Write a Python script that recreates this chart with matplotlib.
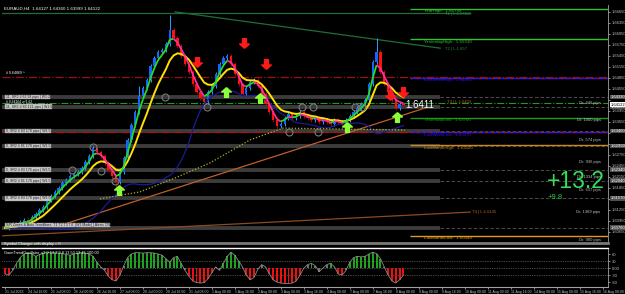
import numpy as np
import pandas as pd
import matplotlib
matplotlib.use('Agg')
import matplotlib.pyplot as plt
from matplotlib.collections import LineCollection
from matplotlib.path import Path
import matplotlib.transforms as mtransforms

plt.rcParams['font.family'] = ['Liberation Sans', 'DejaVu Sans']

# ---- data (EURAUD, H4) ----
closes = [1.6076, 1.6081, 1.6086, 1.6081, 1.6092, 1.6097, 1.6092, 1.6106, 1.6114, 1.6125,
          1.6133, 1.6152, 1.6163, 1.6174, 1.6185, 1.6198, 1.6207, 1.6217, 1.6223, 1.6228,
          1.6239, 1.6256, 1.6272, 1.6294, 1.6283, 1.6272, 1.6253, 1.6234, 1.6217, 1.6201,
          1.6228, 1.6266, 1.6316, 1.6356, 1.6392, 1.6435, 1.6457, 1.6479, 1.6517, 1.6539,
          1.6556, 1.6561, 1.6577, 1.6616, 1.6594, 1.6572, 1.6545, 1.6523, 1.6501, 1.6468,
          1.6447, 1.6430, 1.6419, 1.6447, 1.6463, 1.6496, 1.6523, 1.6539, 1.6545, 1.6523,
          1.6496, 1.6468, 1.6441, 1.6457, 1.6474, 1.6479, 1.6463, 1.6441, 1.6414, 1.6392,
          1.6370, 1.6354, 1.6359, 1.6376, 1.6386, 1.6376, 1.6381, 1.6392, 1.6381, 1.6376,
          1.6370, 1.6376, 1.6365, 1.6370, 1.6365, 1.6359, 1.6370, 1.6365, 1.6359, 1.6370,
          1.6381, 1.6392, 1.6403, 1.6414, 1.6425, 1.6468, 1.6528, 1.6556, 1.6501, 1.6468,
          1.6447, 1.6425, 1.6403, 1.6414, 1.6411]
spike_highs = {43: 1.6656, 97: 1.6594, 35: 1.6462, 62: 1.6470}
spike_lows = {29: 1.6186, 52: 1.6405, 71: 1.6340}

osc = [-25, -30, -10, 20, 45, 60, 64, 62, 50, 58, 64, 66, 66, 66, 64, 62, 58, 55, 60, 64,
       66, 64, 60, 50, 25, 5, -10, -35, -50, -55, -30, 10, 45, 60, 66, 66, 64, 66, 66, 64,
       60, 55, 40, 25, 45, 50, 20, -10, -35, -55, -62, -64, -62, -45, -20, 5, -10, 20, 50, 68,
       55, 30, 5, -30, -50, -40, -5, 15, 5, -25, -50, -60, -64, -66, -66, -64, -55, -30, 0, 15,
       20, 10, -15, 0, 15, 20, 5, -25, -30, -10, 25, 45, 50, 48, 50, 60, 68, 62, 40, 5,
       -30, -55, -64, -50, -30]

slow_ma_bars = [24.8, 35.2, 44.4, 53.5, 64.0, 72.6, 84.9, 104.4]
slow_ma_vals = [1.6155, 1.6174, 1.6212, 1.6253, 1.6316, 1.6348, 1.6346, 1.6343]

zone_levels = [1.6433, 1.6406, 1.6340, 1.6299, 1.6234, 1.6204, 1.6157, 1.6076]
zone_texts = ["11, SR2 # 62 98 pips | W1:2", "11, SR2 # 83 121 pips | W1:5",
              "0, SR2 # 83 178 pips | W1:5", "0, SR2 # 81 178 pips | W1:5",
              "0, SR2 # 83 176 pips | W1:5", "0, SR2 # 81 178 pips | W1:5",
              "0, SR2 # 83 178 pips | W1:5", ""]

day_levels = {"YearHigh": 1.6673, "YesterdayHigh": 1.6591, "LastWeekHigh": 1.6485,
              "YesterdayLow": 1.6376, "LastWeekLow": 1.6337, "LastMonthHigh": 1.6302,
              "LastMonthLow": 1.6054}

dr_prices = [1.6416, 1.6370, 1.6316, 1.6256, 1.6215, 1.6179, 1.6119, 1.6043]
dr_texts = ["Dr. 446 pips", "Dr. 1000 pips", "Dr. 574 pips", "Dr. 936 pips",
            "Dr. 1334 pips", "Dr. 637 pips", "Dr. 1369 pips", "Dr. 900 pips"]

sell_bars = [50.1, 62.4, 68.1, 100.5, 103.9]
sell_vals = [1.6528, 1.6580, 1.6523, 1.6438, 1.6446]
buy_bars = [29.8, 57.7, 66.6, 89.3, 102.3]
buy_vals = [1.6179, 1.6446, 1.6430, 1.6351, 1.6378]

ring_bars = [23, 17.5, 25.1, 28.7, 41.8, 52.7, 74.2, 77.5, 80.4, 81.7, 91.4, 93.2]
ring_vals = [1.6296, 1.6234, 1.6231, 1.6204, 1.6433, 1.6406, 1.6337, 1.6406, 1.6406,
             1.6337, 1.6406, 1.6406]

date_labels = ["21 Jul 2023", "24 Jul 16:00", "25 Jul 08:00", "26 Jul 00:00", "26 Jul 16:00",
               "27 Jul 08:00", "28 Jul 00:00", "28 Jul 16:00", "31 Jul 08:00", "1 Aug 00:00",
               "1 Aug 16:00", "2 Aug 08:00", "3 Aug 00:00", "3 Aug 16:00", "4 Aug 08:00",
               "7 Aug 00:00", "7 Aug 16:00", "8 Aug 08:00", "9 Aug 00:00", "9 Aug 16:00",
               "10 Aug 08:00", "11 Aug 00:00", "11 Aug 16:00", "14 Aug 08:00", "15 Aug 00:00",
               "15 Aug 16:00", "16 Aug 08:00"]

# ---- figure ----
fig = plt.figure(figsize=(6.25, 2.94), dpi=100, facecolor='black')
ax = fig.add_axes([2/625, 1-243/294, 606/625, 238/294], facecolor='black')
ax2 = fig.add_axes([2/625, 1-287/294, 606/625, 39/294], facecolor='black', sharex=ax)

x0, x1 = -0.78, 157.4
ax.set_xlim(x0, x1)
ax.set_ylim(1.60347, 1.66837)

idx = np.arange(len(closes))
opens = [closes[0] + 0.0005] + closes[:-1]
highs, lows = [], []
for i in idx:
    o, c = opens[i], closes[i]
    highs.append(spike_highs.get(i, max(o, c) + 0.0006))
    lows.append(spike_lows.get(i, min(o, c) - 0.0006))

# zones (grey bands) + dashed continuation
for lv, t in zip(zone_levels, zone_texts):
    ax.hlines(lv, x0, 113.6, color='#3c3c3c', lw=2.8, zorder=1)
    ax.hlines(lv, 113.6, x1, color='#6a6a6a', lw=0.5, linestyles=(0, (5, 3)), zorder=1)
    if t:
        ax.text(0.2, lv, t, fontsize=2.5, color='#202020', va='center', ha='left', zorder=6,
                bbox=dict(facecolor='#c8c8c8', edgecolor='#909090', pad=0.3, lw=0.3))
ax.text(0.2, 1.6084, "S/R Zones & Auto Trendlines  T1 T2 T3 T4  (W1 Mode) | Alerts ON",
        fontsize=2.5, color='#202020', va='center', ha='left', zorder=6,
        bbox=dict(facecolor='#c8c8c8', edgecolor='#909090', pad=0.3, lw=0.3))

# full width dash-dot levels
ax.hlines(1.6487, x0, x1, color='#a01010', lw=0.9, linestyles='dashdot', zorder=2)
ax.hlines(1.6416, x0, x1, color='#1f9a1f', lw=0.8, linestyles='dashdot', zorder=2)
ax.hlines(1.6337, x0, x1, color='#b01010', lw=0.9, linestyles='dashdot', zorder=2)
ax.text(0.2, 1.6494, "# 0.64869 ^", fontsize=2.6, color='white', va='bottom')
ax.text(0.2, 1.64195, "# 0.64164 w/1.62", fontsize=2.4, color='white', va='center')

# day / week / month levels on the right
lv_colors = {"YearHigh": '#30c030', "YesterdayHigh": '#30c030', "LastWeekHigh": '#1a1aff',
             "YesterdayLow": '#1a9a1a', "LastWeekLow": '#1a1aff', "LastMonthHigh": '#c88a20',
             "LastMonthLow": '#e09a20'}
for name, lv in day_levels.items():
    ax.hlines(lv, 105.7, x1, color=lv_colors[name], lw=1.0, zorder=2)
    ax.text(109.5, lv - 0.0007, f"{name}:  {lv:.5f}", fontsize=3.2, color=lv_colors[name],
            va='center', ha='left', zorder=6)
ax.hlines([1.6485, 1.6337], 105.7, x1, color='#b01010', lw=0.9, linestyles=(0, (2, 3)), zorder=3)

for p, t in zip(dr_prices, dr_texts):
    ax.text(155.5, p, t, fontsize=3.0, color='#c0c0c0', ha='right', va='center')

# trendlines
ax.plot([-1.0, 121.4], [1.6662, 1.6662], color='#1f6e35', lw=0.9, zorder=2)
ax.plot([44.4, 113.6], [1.6665, 1.6566], color='#1f6e35', lw=0.9, zorder=2)
ax.plot([15.7, 109.7], [1.6087, 1.6403], color='#c0602a', lw=0.9, zorder=2)
ax.plot([-1.3, 121.4], [1.6054, 1.6119], color='#8b4a22', lw=0.9, zorder=2)
ax.text(114.9, 1.6659, "T1 | L:1.66616", fontsize=3.0, color='#2a8a45', va='center')
ax.text(114.9, 1.6564, "T2 | L:1.657", fontsize=3.0, color='#2a8a45', va='center')
ax.text(115.5, 1.6418, "T3 | L:1.6403", fontsize=3.0, color='#c0602a', va='center')
ax.text(122.0, 1.6119, "T4 | L:1.6135", fontsize=3.0, color='#c0602a', va='center')

# candles
up = np.array(closes) >= np.array(opens)
wick_c = np.where(up, '#2aa0ff', '#b00000')
body_c = np.where(up, '#1464ff', '#ff1010')
ax.vlines(idx, lows, highs, colors=wick_c, lw=0.7, zorder=3)
bottoms = np.minimum(opens, closes)
heights = np.maximum(np.abs(np.array(closes) - np.array(opens)), 0.0002)
ax.bar(idx, heights, bottom=bottoms, width=0.6, color=body_c, zorder=3)

# indicators from the closes
s = pd.Series(closes)
fast = s.ewm(span=3, adjust=False).mean()
mid = s.ewm(span=8, adjust=False).mean()
lower = s.rolling(20, min_periods=1).mean() - 1.2 * s.rolling(20, min_periods=2).std().fillna(0)

ax.plot(idx, lower, color='#1a1a9a', lw=0.9, zorder=3)
ax.plot(slow_ma_bars, slow_ma_vals, color='#b0b020', lw=0.9, ls=(0, (1, 1.5)), zorder=3)
ax.plot(idx, mid, color='#ffe000', lw=1.4, zorder=4)
pts = np.column_stack([idx, fast.values])
segs = np.stack([pts[:-1], pts[1:]], axis=1)
seg_c = ['#22dd22' if b > a else '#ff2d9a' for a, b in zip(fast.values[:-1], fast.values[1:])]
ax.add_collection(LineCollection(segs, colors=seg_c, lw=1.3, zorder=4))

# signal arrows and rings
up_arrow = Path([(0, 1), (1, 0.1), (0.4, 0.1), (0.4, -1), (-0.4, -1), (-0.4, 0.1), (-1, 0.1), (0, 1)])
dn_arrow = Path([(x, -y) for x, y in up_arrow.vertices])
ax.plot(sell_bars, sell_vals, ls='none', marker=dn_arrow, ms=7, color='#ff1a1a', zorder=5)
ax.plot(buy_bars, buy_vals, ls='none', marker=up_arrow, ms=7, color='#8cff3a', zorder=5)
ax.plot(ring_bars, ring_vals, ls='none', marker='o', ms=5, mfc='none', mec='#7a7a7a',
        mew=0.8, zorder=5)

# texts
ax.text(104.5, 1.6411, "1.6411", fontsize=7, color='white', va='center', ha='left', zorder=7)
ax.text(0.995, 0.26, "+13.2", transform=ax.transAxes, fontsize=16.5, color='#33e05a',
        ha='right', va='center', zorder=7)
ax.text(0.901, 0.19, "+9.8", transform=ax.transAxes, fontsize=5.5, color='#22cc44',
        ha='left', va='center', zorder=7)
ax.text(0.003, 0.995, "EURAUD,H4  1.64127 1.64360 1.63999 1.64122", transform=ax.transAxes,
        fontsize=3.2, color='white', va='top', ha='left')

# price axis (tick labels that would sit under a level box are left blank)
ax.yaxis.tick_right()
box_levels = zone_levels + [1.64122]
yt = np.arange(1.6065, 1.6684, 0.0030)
ax.set_yticks(yt)
ax.set_yticklabels(["" if min(abs(v - b) for b in box_levels) < 0.0009 else f"{v:.5f}"
                    for v in yt])
ax.tick_params(axis='y', colors='#c0c0c0', labelsize=3.0, length=1.5, width=0.5, pad=1)
ax.tick_params(axis='x', bottom=False, labelbottom=False)
trans = mtransforms.blended_transform_factory(ax.transAxes, ax.transData)
for lv in zone_levels:
    ax.text(1.004, lv, f"{lv:.5f}", transform=trans, fontsize=3.0, color='white', va='center',
            bbox=dict(facecolor='#505050', edgecolor='none', pad=0.3), clip_on=False)
ax.text(1.004, 1.64122, "1.64122", transform=trans, fontsize=3.0, color='black', va='center',
        bbox=dict(facecolor='white', edgecolor='none', pad=0.3), clip_on=False)
for side in ['top', 'left']:
    ax.spines[side].set_visible(False)
ax.spines['right'].set_color('#a0a0a0')
ax.spines['right'].set_linewidth(0.6)
ax.spines['bottom'].set_color('#7a7a7a')
ax.spines['bottom'].set_linewidth(2)

# oscillator pane
osc = np.array(osc)
bar_c = np.where(osc >= 20, '#1fa01f', np.where(osc <= -20, '#ee1010', '#707070'))
ax2.bar(idx, osc, width=0.5, color=bar_c, zorder=2)
ax2.plot(idx, osc, color='#8a8a8a', lw=0.6, zorder=3)
ax2.set_ylim(-81, 86)
for lv in [30, 0, -30]:
    ax2.axhline(lv, color='#8a8a8a', lw=0.5, ls=(0, (1, 1.5)), zorder=1)
ax2.yaxis.tick_right()
ax2.set_yticks([60, 30, 0, -30, -60])
ax2.set_yticklabels(["60", "30", "0.00", "-30", "-60"])
ax2.tick_params(axis='y', colors='#c0c0c0', labelsize=3.0, length=1.5, width=0.5, pad=1)
ax2.set_xticks(np.arange(0, 6 * len(date_labels), 6))
ax2.set_xticklabels(date_labels, ha='left')
ax2.tick_params(axis='x', colors='#c0c0c0', labelsize=2.5, length=1.5, width=0.5, pad=1)
ax2.spines['top'].set_color('white')
ax2.spines['top'].set_linewidth(1)
ax2.spines['left'].set_visible(False)
ax2.spines['right'].set_color('#a0a0a0')
ax2.spines['right'].set_linewidth(0.6)
ax2.spines['bottom'].set_color('#a0a0a0')
ax2.spines['bottom'].set_linewidth(0.8)
ax2.text(0.003, 1.04, "Symbol Changer with display = 0", transform=ax2.transAxes,
         fontsize=2.8, color='white', va='bottom')
ax2.text(0.003, 0.95, "GannTrendOscillator_v3.0 13.2 9.8 13.50 13.45 100.00",
         transform=ax2.transAxes, fontsize=2.8, color='white', va='top')

fig.savefig('out.png', dpi=100, facecolor='black')
